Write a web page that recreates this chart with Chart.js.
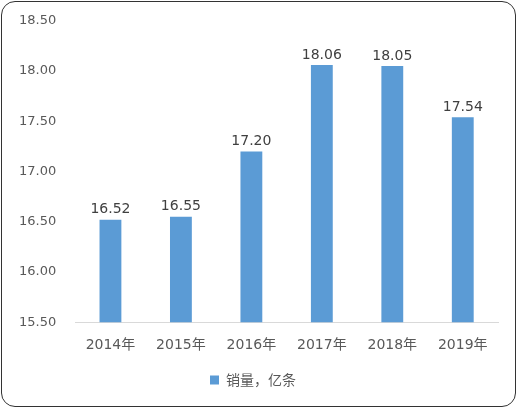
<!DOCTYPE html>
<html>
<head>
<meta charset="utf-8">
<script src="https://cdn.jsdelivr.net/npm/chart.js@4"></script>
<style>
  html, body { margin: 0; padding: 0; background: #fff; }
  #frame {
    position: absolute; left: 1px; top: 1px;
    width: 515px; height: 406px;
    border: 1.5px solid #333; border-radius: 14px;
    box-sizing: border-box; overflow: hidden;
  }
  canvas { display: block; }
</style>
</head>
<body>
<div id="frame"><canvas id="chart" width="512" height="403"></canvas></div>
<script>
const categories = ["2014年", "2015年", "2016年", "2017年", "2018年", "2019年"];
const sales = [16.52, 16.55, 17.20, 18.06, 18.05, 17.54];
const seriesName = "销量，亿条";

const textColor = "#595959";
const barColor = "#5B9BD5";
const font = { family: "'DejaVu Sans', 'Noto Sans CJK SC', sans-serif", size: 13 };

// values over each bar
const valueLabels = {
  id: "valueLabels",
  afterDatasetsDraw(chart) {
    const ctx = chart.ctx;
    ctx.save();
    ctx.font = "14px 'DejaVu Sans', sans-serif";
    ctx.fillStyle = "#404040";
    ctx.textAlign = "center";
    ctx.textBaseline = "bottom";
    chart.getDatasetMeta(0).data.forEach((bar, i) => {
      ctx.fillText(sales[i].toFixed(2), bar.x, bar.y - 3);
    });
    ctx.restore();
  },
};

new Chart("chart", {
  type: "bar",
  data: {
    labels: categories,
    datasets: [{
      label: seriesName,
      data: sales,
      backgroundColor: barColor,
      categoryPercentage: 1,
      barPercentage: 0.31,
    }],
  },
  options: {
    responsive: false,
    animation: false,
    layout: { padding: { left: 6, right: 16, top: 18, bottom: 8 } },
    scales: {
      x: {
        grid: { display: false },
        border: { color: "#d9d9d9" },
        ticks: { color: textColor, font: { ...font, size: 14 }, padding: 7 },
      },
      y: {
        min: 15.5,
        max: 18.5,
        grid: { display: false },
        border: { display: false },
        ticks: {
          stepSize: 0.5,
          color: textColor,
          font,
          padding: 11,
          callback: (v) => Number(v).toFixed(2),
        },
      },
    },
    plugins: {
      tooltip: { enabled: false },
      legend: {
        position: "bottom",
        labels: {
          color: textColor,
          font: { family: "'Noto Sans CJK SC', sans-serif", size: 14 },
          boxWidth: 9,
          boxHeight: 9,
          padding: 12,
        },
      },
    },
  },
  plugins: [valueLabels],
});
</script>
</body>
</html>
